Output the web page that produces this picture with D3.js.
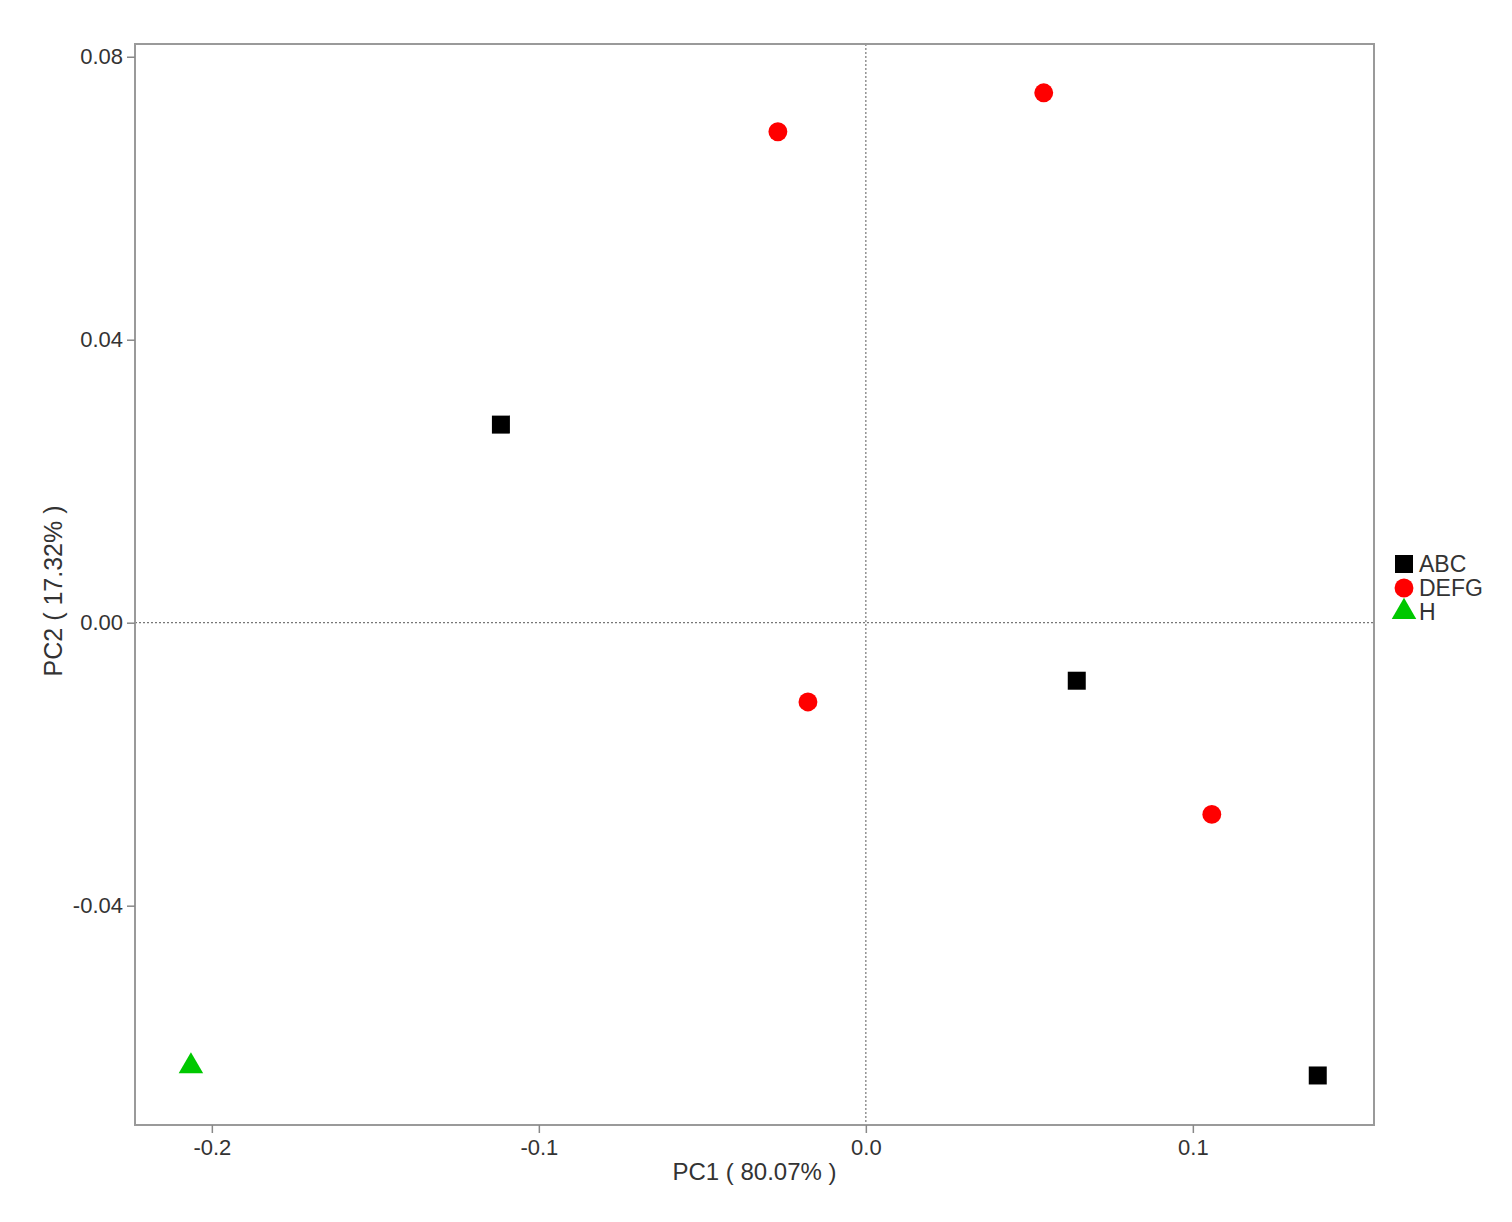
<!DOCTYPE html>
<html><head><meta charset="utf-8">
<script src="https://cdn.jsdelivr.net/npm/d3@7"></script>
<style>body{margin:0;background:#fff;} text{font-family:"Liberation Sans",Arial,sans-serif;}</style>
</head><body>
<svg id="c" width="1512" height="1222"></svg>
<script>
const groups = ["ABC","DEFG","H"];
const groupColors = ["#000000","#ff0000","#00c800"];
const groupShapes = ["square","circle","triangle"];
const sampleGroup = ["ABC","ABC","ABC","DEFG","DEFG","DEFG","DEFG","H"];
const pc1 = [-0.1116, 0.0645, 0.1382, -0.0269, 0.0544, -0.0177, 0.1058, -0.2064];
const pc2 = [0.0280, -0.0082, -0.0640, 0.0694, 0.0749, -0.0112, -0.0271, -0.0627];
const xTicks = [-0.2,-0.1,0.0,0.1];
const yTicks = [-0.04,0.00,0.04,0.08];
const xLabel = "PC1 ( 80.07% )";
const yLabel = "PC2 ( 17.32% )";

const svg = d3.select("#c");
const L=135,R=1374,T=44,B=1125;
const x = d3.scaleLinear().domain([-0.2235,0.1554]).range([L,R]);
const y = d3.scaleLinear().domain([-0.0710,0.0818]).range([B,T]);
const fmtX = d => d3.format(".1f")(d).replace("\u2212","-");
const fmtY = d => d3.format(".2f")(d).replace("\u2212","-");

// reference lines
svg.append("line").attr("x1",x(0)).attr("x2",x(0)).attr("y1",T).attr("y2",B)
  .attr("stroke","#777").attr("stroke-width",1.2).attr("stroke-dasharray","2,2");
svg.append("line").attr("x1",L).attr("x2",R).attr("y1",y(0)).attr("y2",y(0))
  .attr("stroke","#777").attr("stroke-width",1.2).attr("stroke-dasharray","2,2");

// frame
svg.append("rect").attr("x",L).attr("y",T).attr("width",R-L).attr("height",B-T)
  .attr("fill","none").attr("stroke","#9a9a9a").attr("stroke-width",2);

// axes
const xa = svg.append("g").attr("transform",`translate(0,${B})`)
  .call(d3.axisBottom(x).tickValues(xTicks).tickFormat(fmtX).tickSize(8).tickPadding(6));
const ya = svg.append("g").attr("transform",`translate(${L},0)`)
  .call(d3.axisLeft(y).tickValues(yTicks).tickFormat(fmtY).tickSize(8).tickPadding(4));
[xa,ya].forEach(a=>{
  a.select(".domain").remove();
  a.selectAll(".tick line").attr("stroke","#888").attr("stroke-width",1.5);
  a.selectAll(".tick text").attr("fill","#333").attr("font-size",22);
});

svg.append("text").attr("x",(L+R)/2).attr("y",1180).attr("text-anchor","middle")
  .attr("font-size",24).attr("fill","#333").text(xLabel);
svg.append("text").attr("transform",`translate(62,591) rotate(-90)`).attr("text-anchor","middle")
  .attr("font-size",25).attr("fill","#333").text(yLabel);

const symType = {square:d3.symbolSquare,circle:d3.symbolCircle,triangle:d3.symbolTriangle};
const symSize = {square:324,circle:280,triangle:260};
function color(g){return groupColors[groups.indexOf(g)];}
function shape(g){return groupShapes[groups.indexOf(g)];}

svg.append("g").selectAll("path").data(pc1.map((v,i)=>({x:v,y:pc2[i],g:sampleGroup[i]})))
  .join("path")
  .attr("transform",d=>`translate(${x(d.x)},${y(d.y)})`)
  .attr("d",d=>d3.symbol(symType[shape(d.g)],symSize[shape(d.g)])())
  .attr("fill",d=>color(d.g));

// legend
const lg = svg.append("g");
groups.forEach((g,i)=>{
  const yy = 564 + i*24;
  lg.append("path").attr("transform",`translate(1404,${yy})`)
    .attr("d",d3.symbol(symType[groupShapes[i]],symSize[groupShapes[i]])()).attr("fill",groupColors[i]);
  lg.append("text").attr("x",1419).attr("y",yy+8).attr("font-size",23).attr("fill","#333").text(g);
});
</script>
</body></html>
